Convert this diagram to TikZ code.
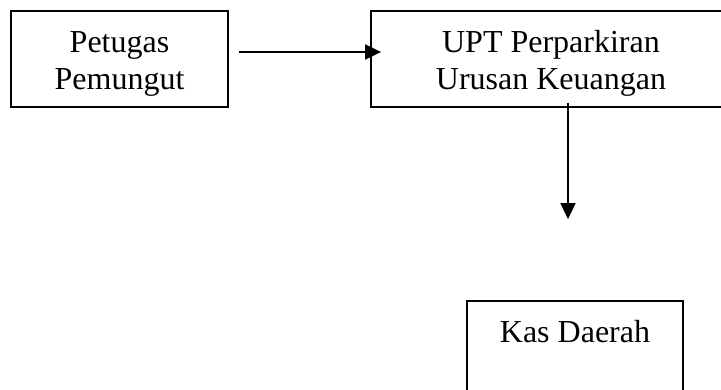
\documentclass[tikz,border=0pt]{standalone}
\usepackage{fontspec}
\setmainfont{Liberation Serif}
\usetikzlibrary{arrows.meta}
% struts that fix the height of a box's first line and the depth of its last
\newcommand{\firstln}{\rule{0pt}{31pt}}
\newcommand{\lastln}{\rule[-7pt]{0pt}{7pt}}
\begin{document}
\begin{tikzpicture}[x=1pt,y=-1pt,
  stagebox/.style={draw, line width=1.8pt, align=center, inner sep=0pt,
    minimum height=96pt, font=\fontsize{32}{37}\selectfont},
  flow/.style={line width=1.8pt, -{Triangle[length=16pt,width=15pt]}}]
\useasboundingbox (0,0) rectangle (721,389);
\clip (0,0) rectangle (721,389);
% the three stages of the flow
\node[stagebox, minimum width=217pt] (petugas) at (119.5,59)
  {\firstln Petugas\\Pemungut\lastln};
\node[stagebox, minimum width=360pt] (upt) at (551,59)
  {\firstln UPT Perparkiran\\Urusan Keuangan\lastln};
\node[stagebox, minimum width=216pt] (kas) at (575,349)
  {\firstln Kas Daerah\\\lastln};
% connectors
\draw[flow] ([xshift=10pt,yshift=7pt]petugas.east) -- ([xshift=11pt,yshift=7pt]upt.west);
\draw[flow] ([xshift=17pt,yshift=5pt]upt.south) -- ([xshift=-7pt,yshift=81pt]kas.north);
\end{tikzpicture}
\end{document}
